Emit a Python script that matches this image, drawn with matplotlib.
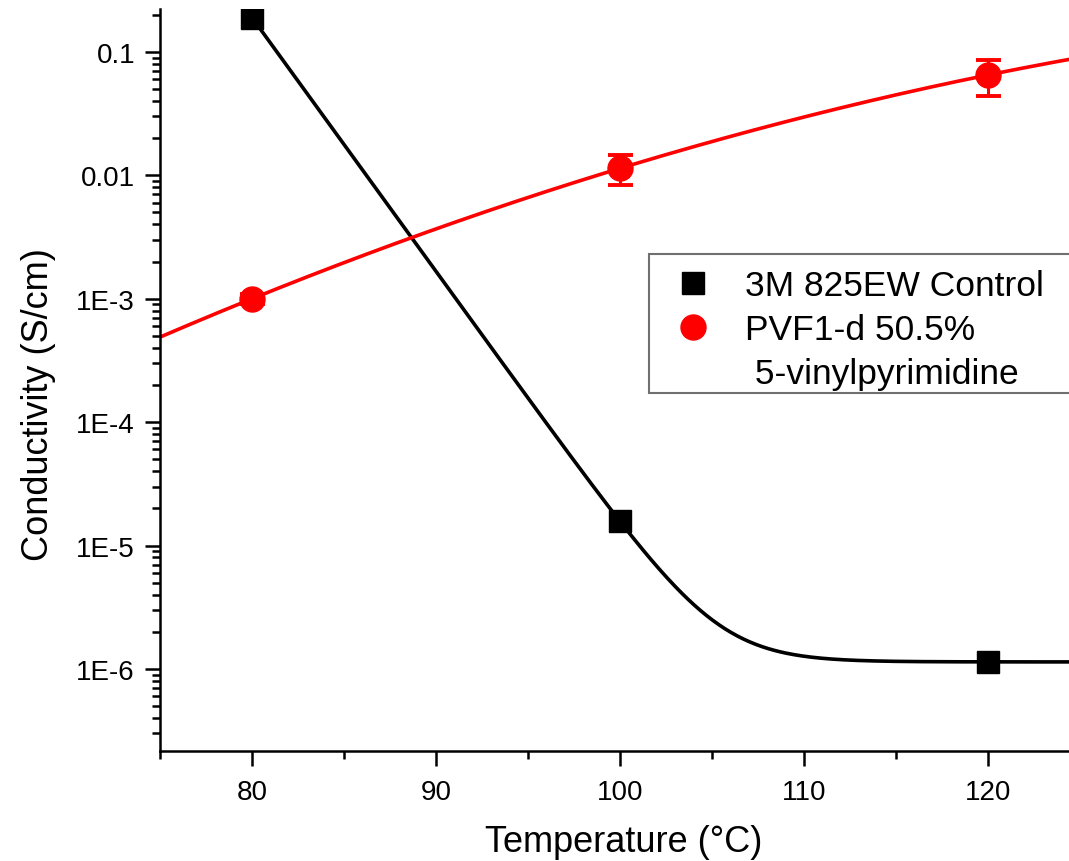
"""Conductivity vs temperature, log scale, two membranes with fitted curves."""

import matplotlib
matplotlib.use("Agg")
import matplotlib.pyplot as plt
import matplotlib.ticker as mtick
import numpy as np
from matplotlib.lines import Line2D
from matplotlib.patches import Rectangle

plt.rcParams["font.family"] = ["Liberation Sans", "DejaVu Sans"]

# measured points
temps = [80, 100, 120]
control_cond = [0.19, 1.57e-5, 1.14e-6]
control_err = [0.01, 2e-6, 1.6e-7]
pvf_cond = [1.0e-3, 0.0114, 0.0651]
pvf_err = [1.0e-4, 0.0031, 0.021]

y_ticks = [1e-6, 1e-5, 1e-4, 1e-3, 1e-2, 1e-1]
y_tick_labels = ["1E-6", "1E-5", "1E-4", "1E-3", "0.01", "0.1"]
x_ticks = [80, 90, 100, 110, 120]

BLACK = "#000000"
RED = "#ff0000"
W, H = 1069, 862


def expdec_fit(x, y):
    # y = y0 + A*exp(-(x - x0)/t) through three equally spaced points
    y1, y2, y3 = y
    y0 = (y1 * y3 - y2 ** 2) / (y1 + y3 - 2 * y2)
    amp = y1 - y0
    step = x[1] - x[0]
    t = step / np.log(amp / (y2 - y0))
    return lambda xx: y0 + amp * np.exp(-(xx - x[0]) / t)


def main() -> None:
    fig = plt.figure(figsize=(W / 100, H / 100), dpi=100, facecolor="white")
    ax = fig.add_axes([160 / W, 1 - 752 / H, 1 - 160 / W, 742 / H])

    xmin, xmax = 75, 124.4

    # fitted curves
    f_ctrl = expdec_fit(temps, control_cond)
    xs_ctrl = np.linspace(temps[0], xmax, 400)
    ax.plot(xs_ctrl, f_ctrl(xs_ctrl), color=BLACK, lw=2.6, zorder=2)

    coef = np.polyfit(temps, np.log10(pvf_cond), 2)
    xs_pvf = np.linspace(xmin, xmax, 400)
    ax.plot(xs_pvf, 10 ** np.polyval(coef, xs_pvf), color=RED, lw=2.6, zorder=2)

    ax.errorbar(temps, control_cond, yerr=control_err, fmt="s", color=BLACK,
                markersize=16, capsize=8, elinewidth=2, capthick=2.5, zorder=3)
    ax.errorbar(temps, pvf_cond, yerr=pvf_err, fmt="o", color=RED,
                markersize=18, capsize=9, elinewidth=2.2, capthick=2.8, zorder=3)

    ax.set_yscale("log")
    ax.set_xlim(xmin, xmax)
    ax.set_ylim(2.16e-7, 0.223)

    ax.yaxis.set_major_locator(mtick.FixedLocator(y_ticks))
    ax.yaxis.set_major_formatter(mtick.FixedFormatter(y_tick_labels))
    ax.yaxis.set_minor_locator(mtick.LogLocator(base=10, subs=np.arange(2, 10), numticks=20))
    ax.yaxis.set_minor_formatter(mtick.NullFormatter())
    ax.xaxis.set_major_locator(mtick.FixedLocator(x_ticks))
    ax.xaxis.set_minor_locator(mtick.MultipleLocator(5))

    for spine in ("top", "right"):
        ax.spines[spine].set_visible(False)
    for spine in ("left", "bottom"):
        ax.spines[spine].set_linewidth(1.8)

    ax.tick_params(which="major", direction="out", length=11, width=1.8,
                   labelsize=20, pad=7)
    ax.tick_params(which="minor", direction="out", length=6, width=1.8)
    ax.tick_params(axis="x", which="major", pad=9)

    fig.text(0.5 * (487 + 760) / W, 1 - 843 / H, "Temperature (°C)",
             fontsize=26, ha="center", va="center")
    fig.text(39 / W, 1 - 405 / H, "Conductivity (S/cm)", fontsize=26,
             rotation=90, ha="center", va="center")

    # legend box runs off the right edge of the figure
    fig.patches.append(Rectangle((649 / W, 1 - 394 / H), (1080 - 649) / W, 139 / H,
                                 transform=fig.transFigure, facecolor="white",
                                 edgecolor="#707070", linewidth=1.5, zorder=4))

    handles = [
        Line2D([], [], ls="none", marker="s", color=BLACK, markersize=16),
        Line2D([], [], ls="none", marker="o", color=RED, markersize=18),
        Line2D([], [], ls="none"),
    ]
    labels = ["3M 825EW Control", "PVF1-d 50.5%", " 5-vinylpyrimidine"]
    leg = fig.legend(handles, labels, loc="upper left",
                     bbox_to_anchor=(649 / W, 1 - 258 / H),
                     fontsize=25.5, frameon=False, borderpad=0.35,
                     labelspacing=0.3, handlelength=1.8, handletextpad=0.55,
                     borderaxespad=0)
    leg.set_zorder(5)

    fig.savefig("out.png", dpi=100, facecolor="white")
    plt.close(fig)


if __name__ == "__main__":
    main()
